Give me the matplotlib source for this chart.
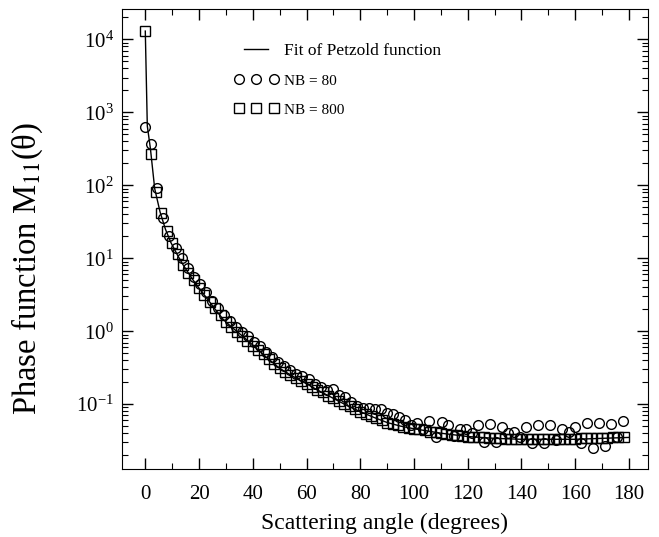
import matplotlib
matplotlib.use("Agg")
import matplotlib.pyplot as plt
from matplotlib.ticker import MultipleLocator, LogLocator, NullFormatter, FixedLocator
from matplotlib.legend_handler import HandlerLine2D

plt.rcParams["font.family"] = ["Liberation Serif", "DejaVu Serif"]
plt.rcParams["mathtext.fontset"] = "stix"

# Fit of Petzold function (line)
fit_angle = [0, 0.75, 1.9, 3.5, 5.5, 7.5, 9.5, 12, 14, 16, 18, 20, 23, 26, 29, 32,
             35, 38, 41, 45, 50, 55, 60, 65, 70, 75, 80, 85, 90, 95, 100, 110,
             120, 130, 140, 150, 160, 170, 180]
fit_value = [13000, 650, 320, 90, 43, 25, 16.5, 11, 8.2, 6.3, 4.9, 3.9, 2.8, 2.0,
             1.45, 1.15, 0.93, 0.75, 0.60, 0.44, 0.31, 0.24, 0.19, 0.15, 0.12,
             0.096, 0.079, 0.066, 0.056, 0.050, 0.046, 0.040, 0.036, 0.034,
             0.033, 0.033, 0.033, 0.034, 0.035]

# NB = 80 (circles)
nb80_angle = [i * 2.25 for i in range(80)]
nb80_value = [620, 370, 92, 36, 20, 14, 10, 7.3, 5.6, 4.4, 3.4, 2.6, 2.1, 1.65,
              1.38, 1.15, 0.98, 0.86, 0.72, 0.62, 0.52, 0.44, 0.38, 0.33, 0.29,
              0.26, 0.24, 0.22, 0.19, 0.17, 0.155, 0.16, 0.135, 0.125, 0.107,
              0.093, 0.088, 0.088, 0.085, 0.087, 0.076, 0.074, 0.066, 0.060,
              0.052, 0.056, 0.046, 0.058, 0.036, 0.057, 0.051, 0.037, 0.045,
              0.046, 0.040, 0.051, 0.030, 0.053, 0.030, 0.049, 0.040, 0.042,
              0.035, 0.049, 0.029, 0.0515, 0.029, 0.051, 0.032, 0.046, 0.042,
              0.049, 0.029, 0.055, 0.025, 0.056, 0.027, 0.053, 0.036, 0.058]

# NB = 800 (squares)
nb800_angle = list(range(0, 180, 2))
nb800_value = [13000, 270, 82, 42, 24, 16, 11.5, 8.2, 6.3, 5.0, 3.9, 3.1, 2.5,
               2.05, 1.65, 1.35, 1.15, 0.98, 0.86, 0.74, 0.63, 0.56, 0.48, 0.41,
               0.36, 0.31, 0.28, 0.25, 0.23, 0.21, 0.19, 0.17, 0.155, 0.145,
               0.13, 0.12, 0.11, 0.10, 0.093, 0.086, 0.079, 0.074, 0.069, 0.064,
               0.060, 0.056, 0.054, 0.051, 0.049, 0.047, 0.046, 0.045, 0.044,
               0.042, 0.041, 0.040, 0.039, 0.038, 0.038, 0.037, 0.036, 0.036,
               0.035, 0.035, 0.034, 0.034, 0.034, 0.033, 0.033, 0.033, 0.033,
               0.033, 0.033, 0.033, 0.033, 0.033, 0.033, 0.033, 0.033, 0.033,
               0.033, 0.034, 0.034, 0.034, 0.034, 0.034, 0.034, 0.035, 0.035,
               0.036]

x_ticks = [0, 20, 40, 60, 80, 100, 120, 140, 160, 180]
y_ticks = [1e-1, 1e0, 1e1, 1e2, 1e3, 1e4]

fig = plt.figure(figsize=(6.59, 5.37), dpi=100)
ax = fig.add_axes([0.185, 0.127, 0.798, 0.856])

fit_line, = ax.plot(fit_angle, fit_value, color="black", lw=1.0,
                    label="Fit of Petzold function")
circ, = ax.plot(nb80_angle, nb80_value, ls="none", marker="o", ms=7.0, mfc="none",
                mec="black", mew=1.0, label="NB = 80")
sq, = ax.plot(nb800_angle, nb800_value, ls="none", marker="s", ms=6.5, mfc="none",
              mec="black", mew=1.0, label="NB = 800")

ax.set_yscale("log")
ax.set_xlim(-8.7, 187)
ax.set_ylim(0.013, 2.6e4)

ax.xaxis.set_major_locator(FixedLocator(x_ticks))
ax.xaxis.set_minor_locator(MultipleLocator(10))
ax.yaxis.set_major_locator(FixedLocator(y_ticks))
ax.yaxis.set_minor_locator(LogLocator(base=10, subs=range(2, 10), numticks=20))
ax.yaxis.set_minor_formatter(NullFormatter())
ax.tick_params(which="both", direction="in", top=True, right=True, labelsize=15)
ax.tick_params(which="major", length=8, width=1)
ax.tick_params(which="minor", length=4, width=0.8)
ax.tick_params(axis="x", pad=12)
ax.tick_params(axis="y", pad=6)

ax.set_xlabel("Scattering angle (degrees)", fontsize=17, labelpad=6)
ax.set_ylabel("Phase function M$_{11}$(θ)", fontsize=23.5)
ax.yaxis.set_label_coords(-0.146, 0.435)

leg = ax.legend(handles=[fit_line, circ, sq], loc="upper left",
                bbox_to_anchor=(0.206, 0.945), frameon=False,
                fontsize=12.5, numpoints=3, handlelength=2.0, handletextpad=0.6,
                labelspacing=0.8, borderpad=0,
                handler_map={circ: HandlerLine2D(marker_pad=0, numpoints=3),
                             sq: HandlerLine2D(marker_pad=0, numpoints=3)})
for t in leg.get_texts()[1:]:
    t.set_fontsize(11)

fig.savefig("out.png", dpi=100)
